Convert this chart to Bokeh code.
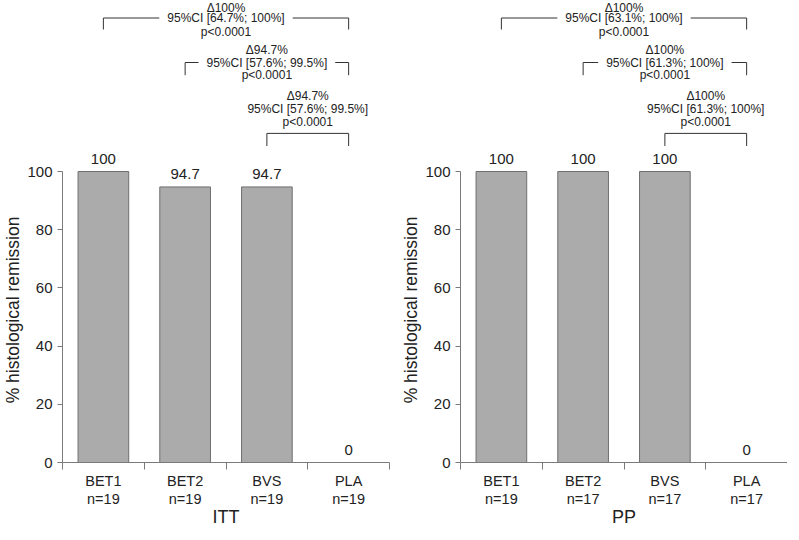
import math
from bokeh.plotting import figure
from bokeh.layouts import row
from bokeh.models import FixedTicker, Range1d
from bokeh.embed import file_html
from bokeh.resources import INLINE
from bokeh.core.properties import value

# ---- data ----
categories = ["BET1", "BET2", "BVS", "PLA"]
itt_n = [19, 19, 19, 19]
itt_values = [100, 94.7, 94.7, 0]
pp_n = [19, 17, 17, 17]
pp_values = [100, 100, 100, 0]
comparisons = [("BET1", "PLA"), ("BET2", "PLA"), ("BVS", "PLA")]
itt_deltas = ["Δ100%", "Δ94.7%", "Δ94.7%"]
itt_ci = ["95%CI [64.7%; 100%]", "95%CI [57.6%; 99.5%]", "95%CI [57.6%; 99.5%]"]
itt_p = ["p<0.0001", "p<0.0001", "p<0.0001"]
pp_deltas = ["Δ100%", "Δ100%", "Δ100%"]
pp_ci = ["95%CI [63.1%; 100%]", "95%CI [61.3%; 100%]", "95%CI [61.3%; 100%]"]
pp_p = ["p<0.0001", "p<0.0001", "p<0.0001"]
y_ticks = [0, 20, 40, 60, 80, 100]
y_label = "% histological remission"
itt_label = "ITT"
pp_label = "PP"

FONT = "Liberation Sans"
TXT = "#222222"
AX = "#7a7a7a"
FRAME_H = 462
FRAME_W = 327
TOP100 = 171                      # pixel distance of the 100 line from the frame top
PX = (FRAME_H - TOP100) / 100     # pixels per y unit
CAT_PX = FRAME_W / 4              # pixels per category
ANN_PT = 12                       # annotation font size (px)

# Arial / Liberation Sans advance widths (em) used to leave a gap in the bracket line
ADV = {c: 0.556 for c in "0123456789"}
ADV.update({"%": 0.889, "C": 0.722, "I": 0.278, " ": 0.278, "[": 0.278, "]": 0.278,
            ".": 0.278, ";": 0.278})


def text_px(s, size):
    return sum(ADV.get(c, 0.556) for c in s) * size


def val(fy):
    """convert a pixel distance from the frame top into a y value"""
    return (FRAME_H - fy) / PX


def y_range():
    return Range1d(0, FRAME_H / PX)


def make_ylabel(width, cx):
    f = figure(frame_width=width, frame_height=FRAME_H, output_backend="svg",
               toolbar_location=None, x_range=Range1d(0, width), y_range=y_range(),
               x_axis_type=None, y_axis_type=None, min_border=0,
               outline_line_color=None)
    f.grid.visible = False
    f.text(x=[cx], y=[50 + 7 / PX], text=[y_label], angle=math.pi / 2,
           text_align="center", text_baseline="middle", text_font=value(FONT),
           text_font_size="17.5px", text_color=TXT)
    return f


def make_panel(values, ns, deltas, cis, ps, xlabel, bl, br):
    p = figure(frame_width=FRAME_W, frame_height=FRAME_H, output_backend="svg",
               toolbar_location=None,
               x_range=Range1d(0, len(categories)), y_range=y_range(),
               min_border_left=bl, min_border_right=br, min_border_top=0,
               min_border_bottom=0, outline_line_color=None)
    p.grid.visible = False

    xs = [i + 0.5 for i in range(len(categories))]
    p.vbar(x=xs, top=values, width=0.62, bottom=0,
           fill_color="#ababab", line_color="#6f6f6f", line_width=1)
    p.text(x=xs, y=[v + 13 / PX for v in values], text=[f"{v:g}" for v in values],
           text_align="center", text_baseline="middle", text_font=value(FONT),
           text_font_size="15px", text_color=TXT)

    # x axis: labels at category centres, minor ticks at boundaries
    xa = p.xaxis[0]
    xa.ticker = FixedTicker(ticks=xs, minor_ticks=list(range(len(categories) + 1)))
    xa.major_label_overrides = {x: f"{c}\nn={n}" for x, c, n in zip(xs, categories, ns)}
    xa.major_tick_out = 0
    xa.major_tick_in = 0
    xa.minor_tick_out = 7
    xa.minor_tick_in = 0
    xa.minor_tick_line_color = AX
    xa.axis_line_color = AX
    xa.major_label_text_font = FONT
    xa.major_label_text_font_size = "14.5px"
    xa.major_label_text_line_height = 1.15
    xa.major_label_text_color = TXT
    xa.major_label_standoff = 3
    xa.axis_label = xlabel
    xa.axis_label_text_font = FONT
    xa.axis_label_text_font_size = "18px"
    xa.axis_label_text_font_style = "normal"
    xa.axis_label_text_color = TXT
    xa.axis_label_standoff = -3

    # y axis
    ya = p.yaxis[0]
    ya.ticker = FixedTicker(ticks=y_ticks)
    ya.bounds = (0, 100)
    ya.major_tick_out = 5
    ya.major_tick_in = 0
    ya.minor_tick_line_color = None
    ya.axis_line_color = AX
    ya.major_tick_line_color = AX
    ya.major_label_text_font = FONT
    ya.major_label_text_font_size = "15px"
    ya.major_label_text_color = TXT
    ya.major_label_standoff = 5

    # comparison brackets, placed in pixels from the frame top
    line_px = [17.5, 62.0, 132.9]
    leg_px = [29.0, 74.7, 145.5]
    rows_px = [[7.0, 17.5, 31.0], [49.5, 62.0, 74.7], [95.0, 108.6, 121.3]]
    gap = 8
    for k, (a, b) in enumerate(comparisons):
        xa_ = categories.index(a) + 0.5
        xb_ = categories.index(b) + 0.5
        xm = (xa_ + xb_) / 2
        yl = val(line_px[k])
        yb = val(leg_px[k])
        if abs(line_px[k] - rows_px[k][1]) < 6:
            half = (text_px(cis[k], ANN_PT) / 2 + gap) / CAT_PX
            p.line(x=[xa_, xa_, xm - half], y=[yb, yl, yl], line_color="#333333", line_width=1)
            p.line(x=[xm + half, xb_, xb_], y=[yl, yl, yb], line_color="#333333", line_width=1)
        else:
            p.line(x=[xa_, xa_, xb_, xb_], y=[yb, yl, yl, yb],
                   line_color="#333333", line_width=1)
        for t, fy in zip((deltas[k], cis[k], ps[k]), rows_px[k]):
            p.text(x=[xm], y=[val(fy)], text=[t], text_align="center",
                   text_baseline="middle", text_font=value(FONT),
                   text_font_size=f"{ANN_PT}px", text_color=TXT)
    return p


ylab_left = make_ylabel(24, 12)
left = make_panel(itt_values, itt_n, itt_deltas, itt_ci, itt_p, itt_label, 36, 5)
ylab_right = make_ylabel(28, 16)
right = make_panel(pp_values, pp_n, pp_deltas, pp_ci, pp_p, pp_label, 36, 0)
layout = row(ylab_left, left, ylab_right, right)

open("out.html", "w").write(file_html(layout, INLINE))
